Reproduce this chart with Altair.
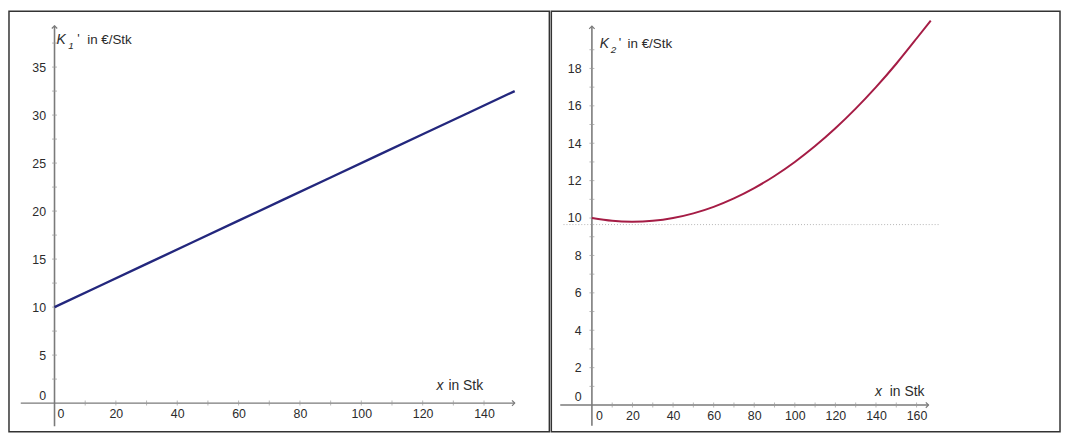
import altair as alt
import pandas as pd

# ---------------- data ----------------
# left panel: K1'(x)
k1_x = [0, 30, 60, 90, 120, 150]
k1_y = [10.0, 14.5, 19.0, 23.5, 28.0, 32.5]

# right panel: K2'(x)
k2_x = [0, 10, 20, 30, 40, 50, 60, 70, 80, 90, 100, 110, 120, 130, 140, 150, 160, 167]
k2_y = [10.0, 9.85, 9.8, 9.85, 10.0, 10.25, 10.6, 11.05, 11.6, 12.25, 13.0, 13.85,
        14.8, 15.85, 17.0, 18.25, 19.6, 20.55]
k2_dotted = 9.65

# tick labels
left_x_labels = [0, 20, 40, 60, 80, 100, 120, 140]
left_y_labels = [0, 5, 10, 15, 20, 25, 30, 35]
right_x_labels = [0, 20, 40, 60, 80, 100, 120, 140, 160]
right_y_labels = [0, 2, 4, 6, 8, 10, 12, 14, 16, 18]

# small tick marks on the axes
left_x_ticks = [10, 20, 30, 40, 50, 60, 70, 80, 90, 100, 110, 120, 130, 140]
left_y_ticks = [2.5, 5, 7.5, 10, 12.5, 15, 17.5, 20, 22.5, 25, 27.5, 30, 32.5, 35, 37.5]
right_x_ticks = [10, 20, 30, 40, 50, 60, 70, 80, 90, 100, 110, 120, 130, 140, 150, 160]
right_y_ticks = [1, 2, 3, 4, 5, 6, 7, 8, 9, 10, 11, 12, 13, 14, 15, 16, 17, 18, 19]

FONT = "Liberation Sans"
AXIS_COLOR = "#7a7a7a"
TEXT_COLOR = "#2b2b2b"


def panel(width, height, xdom, ydom, xoff, yoff, x_ext, y_ext,
          xlabels, ylabels, xticks, yticks, zero_dx, zero_dy, ylabpad,
          line_x, line_y, line_color, line_width, annotations, dotted=None):
    xs = alt.Scale(domain=xdom, nice=False, zero=False)
    ys = alt.Scale(domain=ydom, nice=False, zero=False)

    xaxis = alt.Axis(values=xlabels, title=None, domain=False, ticks=False, tickSize=0,
                     grid=False, offset=xoff, labelPadding=5, labelFont=FONT,
                     labelFontSize=12.5, labelColor=TEXT_COLOR, labelFlush=False,
                     labelOverlap=False,
                     labelOffset={"condition": {"test": "datum.value === 0", "value": zero_dx},
                                  "value": 0})
    yaxis = alt.Axis(values=ylabels, title=None, domain=False, ticks=False, tickSize=0,
                     grid=False, offset=yoff, labelPadding=ylabpad, labelFont=FONT,
                     labelFontSize=12.5, labelColor=TEXT_COLOR, labelFlush=False,
                     labelOverlap=False,
                     labelOffset={"condition": {"test": "datum.value === 0", "value": zero_dy},
                                  "value": 0})

    # identical axis definitions in every layer so that they merge into one axis
    def X():
        return alt.X("x:Q", scale=xs, axis=xaxis)

    def Y():
        return alt.Y("y:Q", scale=ys, axis=yaxis)

    layers = []
    # axis lines
    layers.append(alt.Chart(pd.DataFrame({"x": [x_ext[0]], "x2": [x_ext[1]], "y": [0]}))
                  .mark_rule(color=AXIS_COLOR, strokeWidth=1.4)
                  .encode(x=X(), x2="x2:Q", y=Y()))
    layers.append(alt.Chart(pd.DataFrame({"x": [0], "y": [y_ext[0]], "y2": [y_ext[1]]}))
                  .mark_rule(color=AXIS_COLOR, strokeWidth=1.6)
                  .encode(x=X(), y=Y(), y2="y2:Q"))
    # arrow heads
    layers.append(alt.Chart(pd.DataFrame({"x": [x_ext[1]], "y": [0]}))
                  .mark_point(shape="M-1,-1L0,0L-1,1", filled=False, size=30,
                              color=AXIS_COLOR, strokeWidth=1.2, opacity=1)
                  .encode(x=X(), y=Y()))
    layers.append(alt.Chart(pd.DataFrame({"x": [0], "y": [y_ext[1]]}))
                  .mark_point(shape="M-1,1L0,0L1,1", filled=False, size=30,
                              color=AXIS_COLOR, strokeWidth=1.2, opacity=1)
                  .encode(x=X(), y=Y()))
    # tick marks
    layers.append(alt.Chart(pd.DataFrame({"x": xticks, "y": [0] * len(xticks)}))
                  .mark_tick(orient="vertical", size=5, thickness=1, color="#999999")
                  .encode(x=X(), y=Y()))
    layers.append(alt.Chart(pd.DataFrame({"x": [0] * len(yticks), "y": yticks}))
                  .mark_tick(orient="horizontal", size=5, thickness=1, color="#999999")
                  .encode(x=X(), y=Y()))
    # dotted reference line
    if dotted is not None:
        layers.append(alt.Chart(pd.DataFrame({"x": [dotted[0]], "x2": [dotted[1]],
                                              "y": [dotted[2]]}))
                      .mark_rule(color="#b5b5b5", strokeWidth=1, strokeDash=[1, 2])
                      .encode(x=X(), x2="x2:Q", y=Y()))
    # function graph
    layers.append(alt.Chart(pd.DataFrame({"x": line_x, "y": line_y}))
                  .mark_line(color=line_color, strokeWidth=line_width, interpolate="natural")
                  .encode(x=X(), y=Y()))
    # annotations
    for a in annotations:
        layers.append(alt.Chart(pd.DataFrame({"x": [a["x"]], "y": [a["y"]], "t": [a["text"]]}))
                      .mark_text(align="left", baseline="middle", dx=a["dx"], dy=a["dy"],
                                 font=FONT, fontSize=a["size"],
                                 fontStyle=a.get("style", "normal"), color=TEXT_COLOR)
                      .encode(x=X(), y=Y(), text="t:N"))
    return alt.layer(*layers).properties(width=width, height=height)


left_ann = [
    {"text": "K", "x": 0, "y": 37.8, "dx": 2, "dy": 0, "size": 14, "style": "italic"},
    {"text": "1", "x": 0, "y": 37.8, "dx": 14, "dy": 6, "size": 10, "style": "italic"},
    {"text": "'", "x": 0, "y": 37.8, "dx": 23, "dy": -1, "size": 13},
    {"text": "in €/Stk", "x": 0, "y": 37.8, "dx": 33, "dy": 0, "size": 13.5},
    {"text": "x", "x": 124.5, "y": 0, "dx": 0, "dy": -17, "size": 14, "style": "italic"},
    {"text": "in Stk", "x": 128.4, "y": 0, "dx": 0, "dy": -17, "size": 14},
]
right_ann = [
    {"text": "K", "x": 0, "y": 19.3, "dx": 8, "dy": 0, "size": 14, "style": "italic"},
    {"text": "2", "x": 0, "y": 19.3, "dx": 19, "dy": 6, "size": 10, "style": "italic"},
    {"text": "'", "x": 0, "y": 19.3, "dx": 27, "dy": -1, "size": 13},
    {"text": "in €/Stk", "x": 0, "y": 19.3, "dx": 36, "dy": 0, "size": 13.5},
    {"text": "x", "x": 139.5, "y": 0, "dx": 0, "dy": -13, "size": 14, "style": "italic"},
    {"text": "in Stk", "x": 146.8, "y": 0, "dx": 0, "dy": -13, "size": 14},
]

left = panel(546, 425, [-14.84, 161.29], [-2.99, 40.82], -29, -46,
             (-11, 150), (-2.4, 39.3),
             left_x_labels, left_y_labels, left_x_ticks, left_y_ticks, 6, -8, 9,
             k1_x, k1_y, "#23277d", 2.4, left_ann)

right = panel(514, 425, [-20.0, 230.7], [-1.43, 21.06], -27, -41,
              (-15.6, 165.9), (-1.1, 20.26),
              right_x_labels, right_y_labels, right_x_ticks, right_y_ticks, 7, -9, 11,
              k2_x, k2_y, "#a51c45", 2.0, right_ann,
              dotted=(-14, 171, k2_dotted))

chart = (alt.hconcat(left, right, spacing=0)
         .properties(padding=0, background="white")
         .configure_view(stroke="#333333", strokeWidth=1.5))

chart.save("out.html", embed_options={"renderer": "svg", "actions": False})
